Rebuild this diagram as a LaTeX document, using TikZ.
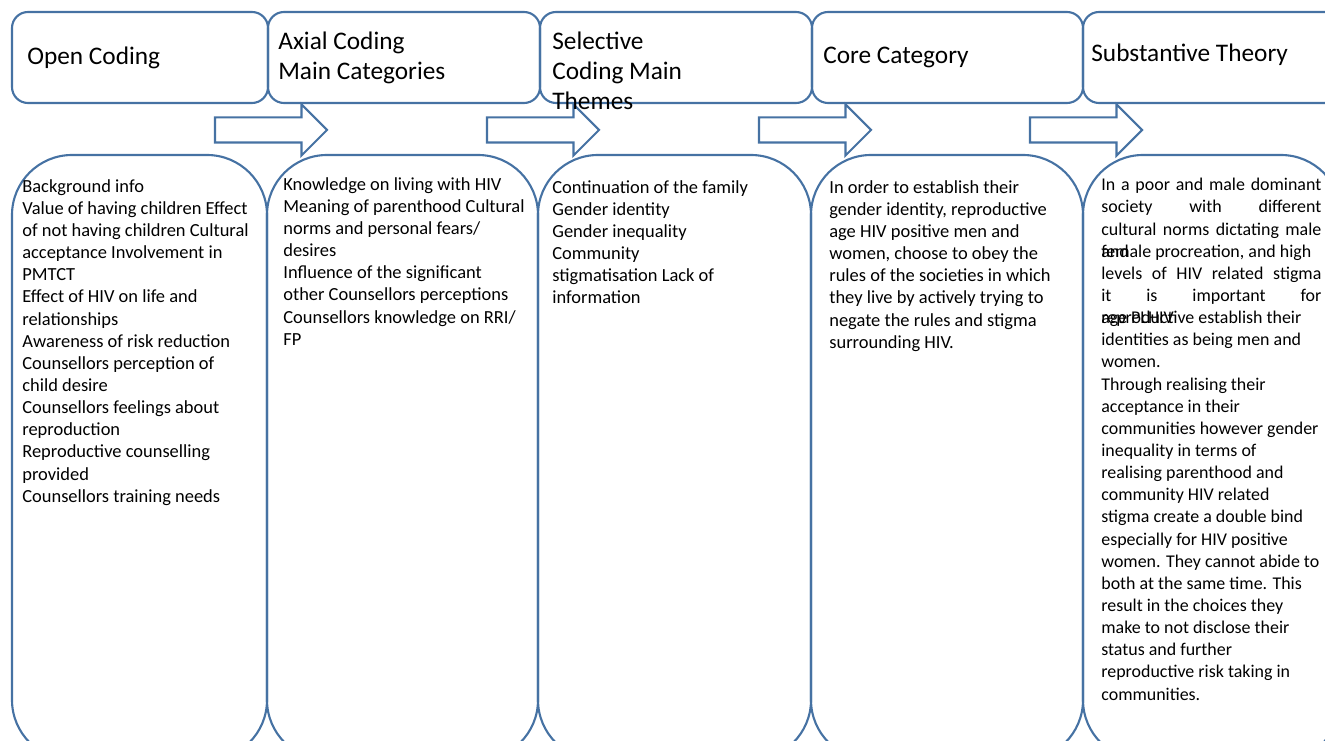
\documentclass[tikz,border=0pt]{standalone}
\usepackage{fontspec}
\setmainfont{Carlito}
\usepackage{tikz}
\usetikzlibrary{shapes,arrows,positioning,calc}
\usepackage{xcolor}
\definecolor{boxblue}{RGB}{70,114,163}

\begin{document}
\begin{tikzpicture}[
    head/.style={rectangle, rounded corners=0.32cm, draw=boxblue, line width=1.2pt, minimum height=1.82cm, outer sep=0pt, inner sep=0pt},
    panel/.style={rectangle, rounded corners=1.2cm, draw=boxblue, line width=1.2pt, minimum height=12.1cm, outer sep=0pt, inner sep=0pt},
    flow/.style={single arrow, draw=boxblue, fill=white, line width=1.2pt, minimum height=2.24cm, single arrow head extend=0.26cm, single arrow tip angle=90, inner xsep=0pt, inner ysep=0.23cm, outer sep=0pt},
    hdtext/.style={align=left, inner sep=0pt, font=\fontsize{14.4}{17.1}\selectfont},
    bodytext/.style={align=left, inner sep=0pt, font=\fontsize{10.5}{12.6}\selectfont}
  ]
    \useasboundingbox (0,0) rectangle (26.5,-14.82);
    \clip (0,0) rectangle (26.5,-14.82);

    % stage headers
    \node[head, minimum width=5.12cm, anchor=north west] (open) at (0.24,-0.24) {};
    \node[head, minimum width=5.44cm, right=0cm of open] (axial) {};
    \node[head, minimum width=5.44cm, right=0cm of axial] (selective) {};
    \node[head, minimum width=5.42cm, right=0cm of selective] (core) {};
    \node[head, minimum width=5.44cm, right=0cm of core] (theory) {};

    % content panels
    \node[panel, minimum width=5.1cm, below=1.04cm of open.south west, anchor=north west] (p1) {};
    \node[panel, minimum width=5.42cm, right=0cm of p1] (p2) {};
    \node[panel, minimum width=5.46cm, right=0cm of p2] (p3) {};
    \node[panel, minimum width=5.44cm, right=0cm of p3] (p4) {};
    \node[panel, minimum width=5.16cm, right=0cm of p4] (p5) {};

    % block arrows
    \node[flow, below left=0.54cm and 1.06cm of open.south east, anchor=tail] (a1) {};
    \node[flow, below left=0.54cm and 1.06cm of axial.south east, anchor=tail] (a2) {};
    \node[flow, below left=0.54cm and 1.06cm of selective.south east, anchor=tail] (a3) {};
    \node[flow, below left=0.54cm and 1.06cm of core.south east, anchor=tail] (a4) {};

    % header texts
    \node[hdtext, right=0.3cm of open.west] (opentxt) {Open Coding};
    \node[hdtext, right=0.2cm of axial.west] (axialtxt) {Axial Coding\\Main Categories};
    \node[hdtext, anchor=north west, xshift=0.24cm] (seltxt) at (axialtxt.north west -| selective.west) {Selective\\Coding Main\\Themes};
    \node[hdtext, right=0.22cm of core.west] (coretxt) {Core Category};
    \node[hdtext, right=0.16cm of theory.west, yshift=0.05cm] (theorytxt) {Substantive Theory};

    % panel texts
    \node[bodytext, below right=0.48cm and 0.2cm of p1.north west] (opencodes) {Background info\\
      Value of having children Effect\\
      of not having children Cultural\\
      acceptance Involvement in\\
      PMTCT\\
      Effect of HIV on life and\\
      relationships\\
      Awareness of risk reduction\\
      Counsellors perception of\\
      child desire\\
      Counsellors feelings about\\
      reproduction\\
      Reproductive counselling\\
      provided\\
      Counsellors training needs};
    \node[bodytext, below right=0.44cm and 0.32cm of p2.north west] (axialcats) {Knowledge on living with HIV\\
      Meaning of parenthood Cultural\\
      norms and personal fears/\\
      desires\\
      Influence of the significant\\
      other Counsellors perceptions\\
      Counsellors knowledge on RRI/\\
      FP};
    \node[bodytext, below right=0.5cm and 0.28cm of p3.north west] (themes) {Continuation of the family\\
      Gender identity\\
      Gender inequality\\
      Community\\
      stigmatisation Lack of\\
      information};
    \node[bodytext, below right=0.5cm and 0.36cm of p4.north west] (corecat) {In order to establish their\\
      gender identity, reproductive\\
      age HIV positive men and\\
      women, choose to obey the\\
      rules of the societies in which\\
      they live by actively trying to\\
      negate the rules and stigma\\
      surrounding HIV.};
    \node[bodytext, font=\fontsize{10.2}{12.6}\selectfont, below right=0.46cm and 0.36cm of p5.north west] (theorybody) {\makebox[4.4cm][s]{In a poor and male dominant}\\
      \makebox[4.4cm][s]{society with different}\\
      \makebox[4.4cm][s]{cultural norms dictating male}\\
      \rlap{and}female procreation, and high\\
      \makebox[4.4cm][s]{levels of HIV related stigma}\\
      \makebox[4.4cm][s]{it is important for}\\
      \rlap{age PLHIV}reproductive establish their\\
      identities as being men and\\
      women.\\
      Through realising their\\
      acceptance in their\\
      communities however gender\\
      inequality in terms of\\
      realising parenthood and\\
      community HIV related\\
      stigma create a double bind\\
      especially for HIV positive\\
      women. They cannot abide to\\
      both at the same time. This\\
      result in the choices they\\
      make to not disclose their\\
      status and further\\
      reproductive risk taking in\\
      communities.};
  \end{tikzpicture}
\end{document}
